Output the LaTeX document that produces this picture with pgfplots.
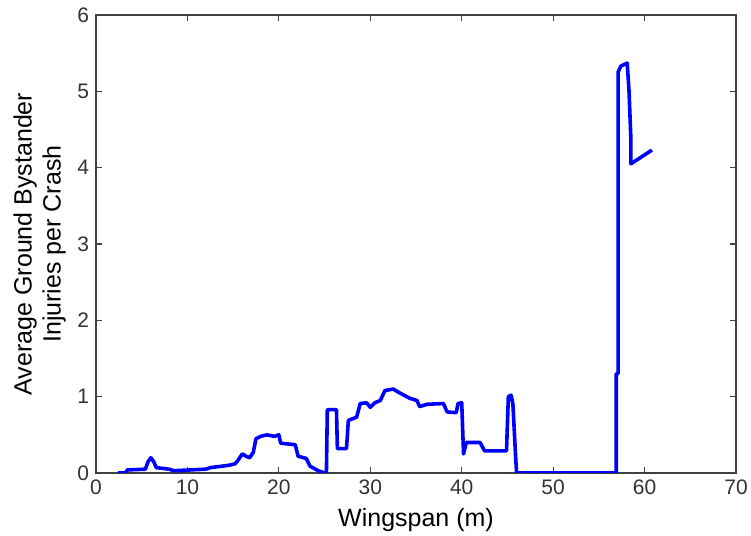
\documentclass[border=0pt]{standalone}
\usepackage{pgfplots}
\pgfplotsset{compat=1.18}
\usepackage{fontspec}
\setmainfont{Liberation Sans}
\definecolor{mlblue}{RGB}{0,0,255}

\begin{document}
\begin{tikzpicture}
\begin{axis}[
  scale only axis,
  width=320pt,
  height=229pt,
  xmin=0, xmax=70,
  ymin=0, ymax=6,
  xtick={0,10,...,70},
  ytick={0,1,...,6},
  tick align=inside,
  major tick length=3pt,
  axis line style={black!75, line width=0.6pt},
  tick style={black!75, line width=0.6pt},
  /pgf/number format/assume math mode=true,
  tick label style={font=\fontsize{10.5}{12}\selectfont, black!80},
  xlabel={Wingspan (m)},
  ylabel={Average Ground Bystander\\Injuries per Crash},
  label style={font=\fontsize{12.5}{14.5}\selectfont},
  ylabel style={align=center, at={(axis description cs:-0.036,0.5)}, anchor=south},
]
\addplot[color=mlblue, line width=1.8pt, line join=round, sharp plot] coordinates {
(2.4,0) (3.3,0) (3.4,0.04) (5.4,0.05) (5.7,0.15) (6.0,0.2) (6.3,0.15) (6.6,0.07)
(8.0,0.05) (8.5,0.03) (12.0,0.05) (12.5,0.07) (14.5,0.1) (15.2,0.12) (15.5,0.16)
(16.0,0.25) (16.4,0.22) (16.8,0.2) (17.2,0.27) (17.5,0.45) (18.0,0.48) (18.7,0.5)
(19.5,0.48) (20.0,0.5) (20.2,0.39) (21.8,0.37) (22.1,0.22) (23.0,0.19) (23.4,0.09)
(24.3,0.03) (25.0,0) (25.2,0) (25.3,0.83) (26.3,0.83) (26.4,0.32) (27.4,0.32)
(27.6,0.69) (28.5,0.73) (28.9,0.91) (29.6,0.92) (30.0,0.86) (30.5,0.92) (31.1,0.95)
(31.6,1.08) (32.5,1.1) (33.2,1.05) (34.3,0.98) (35.1,0.95) (35.4,0.87) (36.2,0.9)
(38.0,0.91) (38.4,0.8) (39.4,0.79) (39.6,0.91) (40.0,0.92) (40.2,0.25) (40.5,0.4)
(42.0,0.4) (42.5,0.29) (44.9,0.29) (45.1,1.0) (45.4,1.02) (45.6,0.9) (45.9,0.2)
(46.0,0) (56.9,0) (56.9,1.3) (57.1,1.3) (57.1,3.96) (57.1,5.25) (57.4,5.33)
(58.1,5.37) (58.3,5.0) (58.5,4.38) (58.5,4.05) (60.8,4.23)
};
\end{axis}
\pgfresetboundingbox
\path ([shift={(-48pt,-31.5pt)}]current axis.south west) rectangle ([shift={(7.5pt,7.5pt)}]current axis.north east);
\end{tikzpicture}
\end{document}
